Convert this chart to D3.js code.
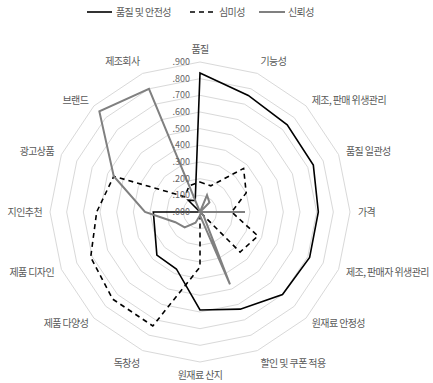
<!DOCTYPE html>
<html>
<head>
<meta charset="utf-8">
<script src="https://cdn.jsdelivr.net/npm/d3@7"></script>
<style>
  html, body { margin: 0; padding: 0; background: #fff; }
  svg { display: block; }
  text { font-family: "Noto Sans CJK KR", "Noto Sans", sans-serif; }
</style>
</head>
<body>
<svg id="chart" width="433" height="383"></svg>
<script>
const categories = ["품질", "기능성", "제조, 판매 위생관리", "품질 일관성", "가격", "제조, 판매자 위생관리",
  "원재료 안정성", "할인 및 쿠폰 적용", "원재료 산지", "독창성", "제품 다양성", "제품 디자인",
  "지인추천", "광고상품", "브랜드", "제조회사"];
const seriesNames = ["품질 및 안전성", "심미성", "신뢰성"];
const qualitySafety = [0.834, 0.757, 0.740, 0.736, 0.710, 0.712, 0.700, 0.631, 0.588, 0.370, 0.366, 0.293, 0.280, 0.000, 0.100, 0.075];
const aesthetics    = [0.180, 0.170, 0.370, 0.300, 0.190, 0.376, 0.340, 0.000, 0.330, 0.740, 0.740, 0.710, 0.620, 0.560, 0.130, 0.170];
const reliability   = [0.000, 0.110, 0.080, 0.000, 0.270, 0.000, 0.030, 0.470, 0.020, 0.070, 0.130, 0.160, 0.330, 0.560, 0.854, 0.800];
const tickValues = [0, 0.1, 0.2, 0.3, 0.4, 0.5, 0.6, 0.7, 0.8, 0.9];
const tickLabels = [".000", ".100", ".200", ".300", ".400", ".500", ".600", ".700", ".800", ".900"];

const svg = d3.select("#chart");
const cx = 200, cy = 212;
const r = d3.scaleLinear().domain([0, 0.9]).range([0, 150]);
const angle = d3.scaleLinear().domain([0, categories.length]).range([0, 2 * Math.PI]);

const g = svg.append("g").attr("transform", `translate(${cx},${cy})`);

// grid rings (polygons)
const ringLine = d3.lineRadial().angle((d, i) => angle(i)).radius(d => r(d)).curve(d3.curveLinearClosed);
tickValues.slice(1).forEach(t => {
  g.append("path")
    .attr("d", ringLine(categories.map(() => t)))
    .attr("fill", "none").attr("stroke", "#d9d9d9").attr("stroke-width", 1);
});

// category labels
const labelR = 158;
categories.forEach((c, i) => {
  const a = angle(i);
  const s = Math.sin(a), co = Math.cos(a);
  const x = labelR * s, y = -labelR * co;
  let anchor = Math.abs(s) < 0.1 ? "middle" : (s > 0 ? "start" : "end");
  let dy = co > 0.9 ? "-0.1em" : (co < -0.9 ? "0.9em" : "0.35em");
  g.append("text").attr("x", x).attr("y", y).attr("dy", dy)
    .attr("text-anchor", anchor).attr("font-size", 10).attr("letter-spacing", "-0.6px")
    .attr("fill", "#595959").text(c);
});

// series
const line = d3.lineRadial().angle((d, i) => angle(i)).radius(d => r(d)).curve(d3.curveLinearClosed);
const series = [
  { name: seriesNames[0], values: qualitySafety, color: "#000000", dash: null, width: 1.6 },
  { name: seriesNames[1], values: aesthetics, color: "#000000", dash: "5,4", width: 1.6 },
  { name: seriesNames[2], values: reliability, color: "#808080", dash: null, width: 2 }
];
series.forEach(sr => {
  g.append("path").attr("d", line(sr.values))
    .attr("fill", "none").attr("stroke", sr.color).attr("stroke-width", sr.width)
    .attr("stroke-dasharray", sr.dash).attr("stroke-linejoin", "miter");
});

// radial tick labels
tickValues.forEach((t, i) => {
  g.append("text").attr("x", -10).attr("y", -r(t)).attr("dy", "0.35em")
    .attr("text-anchor", "end").attr("font-size", 9).attr("fill", "#666")
    .attr("font-family", "Liberation Sans, Arial, sans-serif").text(tickLabels[i]);
});

// legend
const legend = svg.append("g").attr("transform", "translate(0,12)");
const legendItems = [
  { x: 87, w: 25, tx: 116 },
  { x: 190, w: 27, tx: 219 },
  { x: 259, w: 26, tx: 288 }
];
series.forEach((sr, i) => {
  const li = legendItems[i];
  legend.append("line").attr("x1", li.x).attr("x2", li.x + li.w).attr("y1", 0).attr("y2", 0)
    .attr("stroke", sr.color).attr("stroke-width", sr.width).attr("stroke-dasharray", sr.dash);
  legend.append("text").attr("x", li.tx).attr("y", 0).attr("dy", "0.35em")
    .attr("font-size", 10).attr("letter-spacing", "-0.6px").attr("fill", "#595959").text(sr.name);
});
</script>
</body>
</html>
